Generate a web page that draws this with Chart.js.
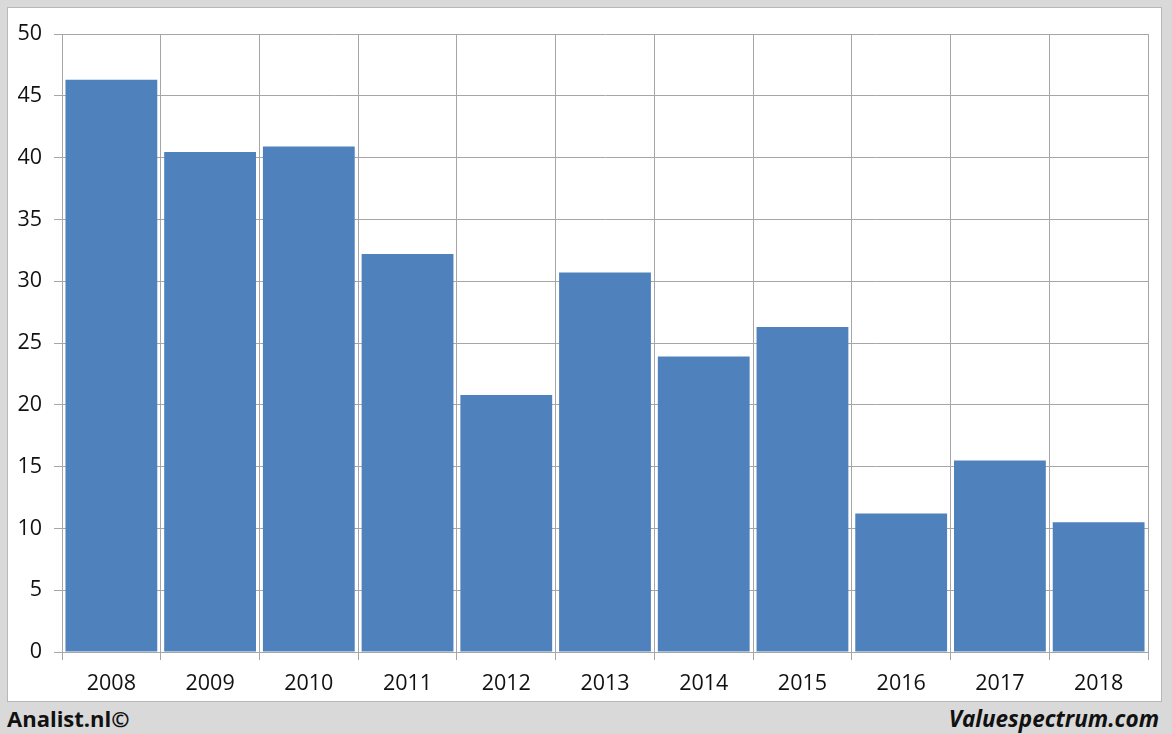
<!DOCTYPE html>
<html>
<head>
<meta charset="utf-8">
<script src="https://cdn.jsdelivr.net/npm/chart.js@4"></script>
<style>
  html, body { margin: 0; padding: 0; }
  body { width: 1172px; height: 734px; background: #d9d9d9; position: relative; overflow: hidden; font-family: "Open Sans", sans-serif; }
  .panel { position: absolute; left: 7px; top: 7px; width: 1153px; height: 693px; background: #fff; border: 1px solid #b8b8b8; }
  .chartBox { position: absolute; left: 0; top: 0; width: 1172px; height: 702px; }
  .footLeft { position: absolute; left: 7px; top: 703px; font-size: 22px; font-weight: bold; color: #111; }
  .footRight { position: absolute; right: 13px; top: 703px; font-size: 22.5px; font-weight: bold; font-style: italic; color: #111; }
</style>
</head>
<body>
<div class="panel"></div>
<div class="chartBox"><canvas id="barChart" width="1172" height="702"></canvas></div>
<div class="footLeft">Analist.nl©</div>
<div class="footRight">Valuespectrum.com</div>
<script>
// years and values
const years = ["2008", "2009", "2010", "2011", "2012", "2013", "2014", "2015", "2016", "2017", "2018"];
const values = [46.3, 40.45, 40.9, 32.2, 20.8, 30.7, 23.9, 26.3, 11.2, 15.5, 10.5];
const yTicks = [0, 5, 10, 15, 20, 25, 30, 35, 40, 45, 50];

const gridColor = '#a6a6a6';
const tickFont = { family: 'Open Sans', size: 21.5 };

const ctx = document.getElementById('barChart').getContext('2d');
new Chart(ctx, {
    type: 'bar',
    data: {
        labels: years,
        datasets: [{
            data: values,
            backgroundColor: '#4f81bd',
            borderWidth: 0,
            barPercentage: 0.93,
            categoryPercentage: 1.0
        }]
    },
    options: {
        responsive: false,
        animation: false,
        layout: { padding: { top: 34, right: 24, left: 0, bottom: 0 } },
        plugins: { legend: { display: false }, tooltip: { enabled: false } },
        scales: {
            x: {
                offset: true,
                grid: { color: gridColor, offset: true, tickLength: 8, lineWidth: 1 },
                border: { color: gridColor },
                ticks: { color: '#111', font: tickFont, padding: 11, maxRotation: 0 },
                afterFit: (scale) => { scale.height = 50; }
            },
            y: {
                min: 0,
                max: 50,
                afterBuildTicks: (scale) => { scale.ticks = yTicks.map(v => ({ value: v })); },
                grid: { color: gridColor, tickLength: 8, lineWidth: 1 },
                border: { color: gridColor },
                ticks: { color: '#111', font: tickFont, padding: 12 },
                afterFit: (scale) => { scale.width = 62; }
            }
        }
    }
});
</script>
</body>
</html>
